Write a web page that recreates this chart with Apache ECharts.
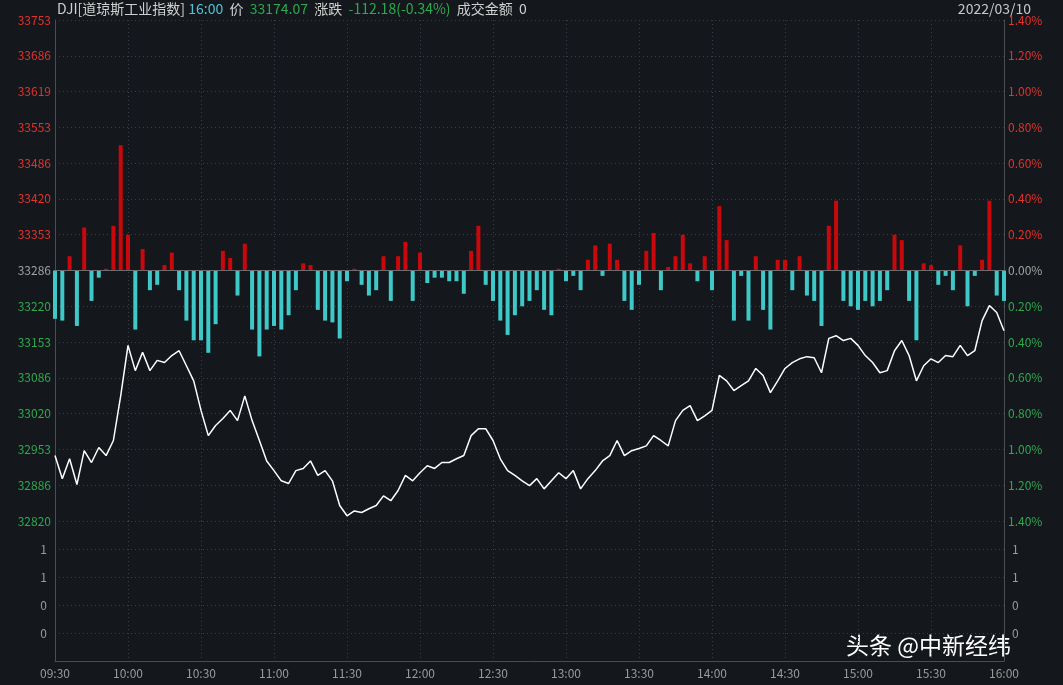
<!DOCTYPE html>
<html><head><meta charset="utf-8">
<script src="https://cdn.jsdelivr.net/npm/echarts@6/dist/echarts.min.js"></script>
<style>html,body{margin:0;padding:0;background:#14171c}#c{width:1063px;height:685px}</style>
</head><body><div id="c"></div>
<script>
const prevClose = 33286.25;
const priceTicks = ['32820','32886','32953','33020','33086','33153','33220','33286','33353','33420','33486','33553','33619','33686','33753'];
const pctTicks = ['1.40%','1.20%','1.00%','0.80%','0.60%','0.40%','0.20%','0.00%','0.20%','0.40%','0.60%','0.80%','1.00%','1.20%','1.40%'];
const volTicks = ['', '0', '0', '1', '1', ''];
const timeLabels = ['09:30','10:00','10:30','11:00','11:30','12:00','12:30','13:00','13:30','14:00','14:30','15:00','15:30','16:00'];
// price every 3 minutes
const prices = [32942,32899,32936,32888,32951,32929,32957,32942,32970,33053,
33147,33100,33134,33100,33119,33115,33128,33137,33109,33081,
33026,32979,32998,33011,33026,33007,33053,33007,32970,32932,
32914,32895,32890,32914,32918,32932,32905,32914,32895,32849,
32830,32839,32836,32843,32849,32867,32858,32877,32905,32895,
32910,32923,32918,32929,32929,32936,32942,32979,32992,32992,
32970,32936,32914,32905,32895,32886,32899,32880,32895,32910,
32899,32914,32880,32899,32914,32932,32942,32970,32942,32951,
32955,32960,32979,32970,32960,33007,33026,33035,33007,33016,
33026,33091,33081,33063,33072,33081,33104,33091,33059,33081,
33104,33115,33122,33126,33124,33096,33160,33165,33156,33160,
33147,33128,33115,33096,33100,33137,33156,33128,33081,33109,
33122,33115,33128,33126,33147,33128,33137,33193,33221,33208,33174.07];
// bar values, percent
const bars = [-0.27,-0.28,0.08,-0.31,0.24,-0.17,-0.04,0.01,0.25,0.70,
0.20,-0.33,0.12,-0.11,-0.08,0.03,0.10,-0.11,-0.28,-0.39,
-0.39,-0.46,-0.30,0.11,0.07,-0.14,0.15,-0.33,-0.48,-0.33,
-0.31,-0.33,-0.25,-0.11,0.04,0.03,-0.22,-0.28,-0.29,-0.38,
-0.06,0.01,-0.08,-0.14,-0.11,0.08,-0.17,0.08,0.16,-0.17,
0.10,-0.07,-0.04,-0.04,-0.06,-0.06,-0.13,0.11,0.25,-0.08,
-0.17,-0.28,-0.36,-0.25,-0.20,-0.17,-0.11,-0.22,-0.25,0.01,
-0.06,-0.03,-0.11,0.06,0.14,-0.03,0.15,0.06,-0.17,-0.22,
-0.08,0.11,0.21,-0.11,0.02,0.08,0.20,0.04,-0.06,0.08,
-0.11,0.36,0.17,-0.28,-0.03,-0.28,0.08,-0.22,-0.33,0.06,
0.06,-0.11,0.08,-0.14,-0.17,-0.31,0.25,0.39,-0.17,-0.20,
-0.22,-0.17,-0.20,-0.17,-0.11,0.20,0.17,-0.17,-0.39,0.04,
0.03,-0.08,-0.03,-0.11,0.14,-0.20,-0.03,0.06,0.39,-0.14,-0.17];

const cats = [];
for (let i = 0; i < prices.length; i++) {
  const m = 9*60+30 + i*3;
  cats.push(String(Math.floor(m/60)).padStart(2,'0') + ':' + String(m%60).padStart(2,'0'));
}
const pct = prices.map(p => (p - prevClose) / prevClose * 100);
const font = '"Noto Sans CJK SC", "Noto Sans", sans-serif';
const gridLine = {show:true, lineStyle:{color:'#3a3e45', type:[1,3], width:1}};
const axisLine = {show:true, lineStyle:{color:'#4a4d52'}};
const idx = v => Math.round((v + 1.4) / 0.2);

const chart = echarts.init(document.getElementById('c'));
chart.setOption({
  backgroundColor:'#14171c',
  animation:false,
  textStyle:{fontFamily:font},
  grid:[{left:55,right:59,top:20,height:501},{left:55,right:59,top:521,height:140}],
  xAxis:[
    {type:'category', gridIndex:0, data:cats, boundaryGap:false,
     axisLine:{show:true, lineStyle:{color:'#4a4d52'}}, axisTick:{show:false}, axisLabel:{show:false, interval:9},
     splitLine:{...gridLine, interval:9}},
    {type:'category', gridIndex:1, data:cats, boundaryGap:false,
     axisLine:axisLine, axisTick:{show:false},
     axisLabel:{color:'#9a9a9a', fontSize:12, fontFamily:font, interval:9, margin:6},
     splitLine:{...gridLine, interval:9}},
    {type:'category', gridIndex:0, data:cats, boundaryGap:false, position:'top',
     axisLine:axisLine, axisTick:{show:false}, axisLabel:{show:false}, splitLine:{show:false}}
  ],
  yAxis:[
    {type:'value', gridIndex:0, min:-1.4, max:1.4, interval:0.2,
     axisLine:axisLine, axisTick:{show:false},
     axisLabel:{fontSize:12, fontFamily:font, margin:4,
       formatter:v=>'{'+(idx(v)>7?'r':idx(v)<7?'g':'n')+'|'+priceTicks[idx(v)]+'}',
       rich:{r:{color:'#e0342c',fontSize:12,fontFamily:font},g:{color:'#2fa84f',fontSize:12,fontFamily:font},n:{color:'#a0a0a0',fontSize:12,fontFamily:font}}},
     splitLine:gridLine},
    {type:'value', gridIndex:0, min:-1.4, max:1.4, interval:0.2, position:'right',
     axisLine:axisLine, axisTick:{show:false},
     axisLabel:{fontSize:12, fontFamily:font, margin:4, align:'left',
       formatter:v=>'{'+(idx(v)>7?'r':idx(v)<7?'g':'n')+'|'+pctTicks[idx(v)]+'}',
       rich:{r:{color:'#e0342c',fontSize:12,fontFamily:font},g:{color:'#2fa84f',fontSize:12,fontFamily:font},n:{color:'#a0a0a0',fontSize:12,fontFamily:font}}},
     splitLine:{show:false}},
    {type:'value', gridIndex:1, min:0, max:5, interval:1,
     axisLine:axisLine, axisTick:{show:false},
     axisLabel:{color:'#9a9a9a', fontSize:12, fontFamily:font, margin:8, formatter:v=>volTicks[v]},
     splitLine:{show:true, lineStyle:{color:'#3a3e45', type:[1,3]}}},
    {type:'value', gridIndex:1, min:0, max:5, interval:1, position:'right',
     axisLine:axisLine, axisTick:{show:false},
     axisLabel:{color:'#9a9a9a', fontSize:12, fontFamily:font, margin:8, align:'left', formatter:v=>volTicks[v]},
     splitLine:{show:false}}
  ],
  series:[
    {type:'bar', xAxisIndex:0, yAxisIndex:0, data:bars.map(v=>({value:v, itemStyle:{color:v>=0?'#c8080b':'#3ec8c8'}})),
     barWidth:4, silent:true},
    {type:'line', xAxisIndex:0, yAxisIndex:0, data:pct, showSymbol:false, symbol:'none',
     lineStyle:{color:'#ffffff', width:1.5}, silent:true,
     markLine:{silent:true, symbol:'none', label:{show:false}, lineStyle:{color:'#6a6d72', type:'solid', width:1}, data:[{yAxis:0}]}}
  ],
  graphic:[
    {type:'text', left:57, top:2, style:{fontFamily:font, fontSize:14,
      text:'{w|DJI[道琼斯工业指数]} {c|16:00}  {w|价}  {gr|33174.07}  {w|涨跌}  {gr|-112.18(-0.34%)}  {w|成交金额}  {w|0}',
      rich:{w:{fill:'#d0d0d0',fontSize:14,fontFamily:font},c:{fill:'#4fc3d6',fontSize:14,fontFamily:font},gr:{fill:'#2fa84f',fontSize:14,fontFamily:font}}}},
    {type:'text', right:32, top:2, style:{text:'2022/03/10', fill:'#c8c8c8', fontSize:14, fontFamily:font}},
    {type:'text', left:846, top:634, style:{text:'头条 @中新经纬', fill:'#ffffff', fontSize:23, fontFamily:font}}
  ]
});
</script></body></html>
